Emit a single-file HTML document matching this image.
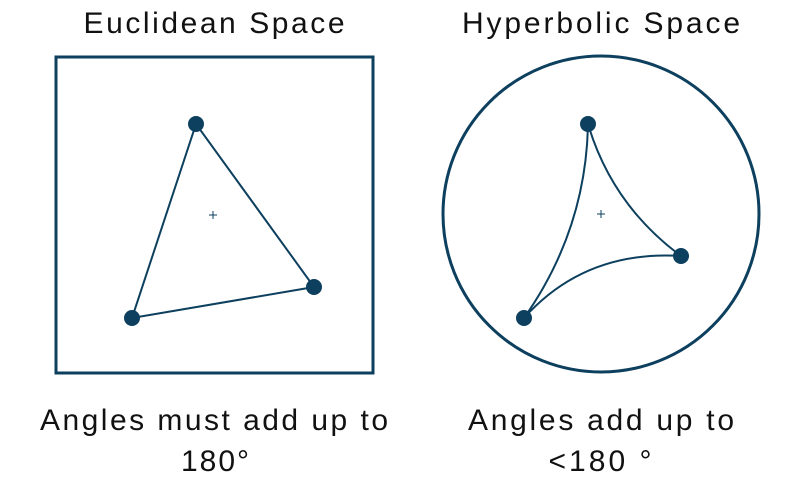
<!DOCTYPE html>
<html><head><meta charset="utf-8"><style>
body{margin:0;background:#fff;}
svg{display:block;font-family:"Liberation Sans",sans-serif;}
</style></head><body>
<svg width="790" height="492" viewBox="0 0 790 492">
<g fill="#111" font-size="30" text-anchor="middle">
<text x="214" y="33" textLength="261" lengthAdjust="spacing">Euclidean Space</text>
<text x="601" y="33" textLength="278" lengthAdjust="spacing">Hyperbolic Space</text>
<text x="214" y="430" textLength="348" lengthAdjust="spacing">Angles must add up to</text>
<text x="215" y="471" textLength="68" lengthAdjust="spacing">180°</text>
<text x="601" y="430" textLength="266" lengthAdjust="spacing">Angles add up to</text>
<text x="600" y="471" textLength="103" lengthAdjust="spacing">&lt;180 °</text>
</g>
<g stroke="#0d3f5e" fill="none">
<rect x="56" y="57" width="317" height="316" stroke-width="3"/>
<polygon points="196,124 314,287 132,318" stroke-width="2"/>
<path d="M209 215h8M213 211v8" stroke-width="1"/>
<circle cx="601" cy="214" r="158" stroke-width="3"/>
<path d="M588 124 Q586 230 524 318" stroke-width="2"/>
<path d="M588 124 Q612 205 681 256" stroke-width="2"/>
<path d="M524 318 Q585 250 681 256" stroke-width="2"/>
<path d="M597 214h8M601 210v8" stroke-width="1"/>
</g>
<g fill="#0d3f5e">
<circle cx="196" cy="124" r="8"/>
<circle cx="314" cy="287" r="8"/>
<circle cx="132" cy="318" r="8"/>
<circle cx="588" cy="124" r="8"/>
<circle cx="681" cy="256" r="8"/>
<circle cx="524" cy="318" r="8"/>
</g>
</svg>
</body></html>
